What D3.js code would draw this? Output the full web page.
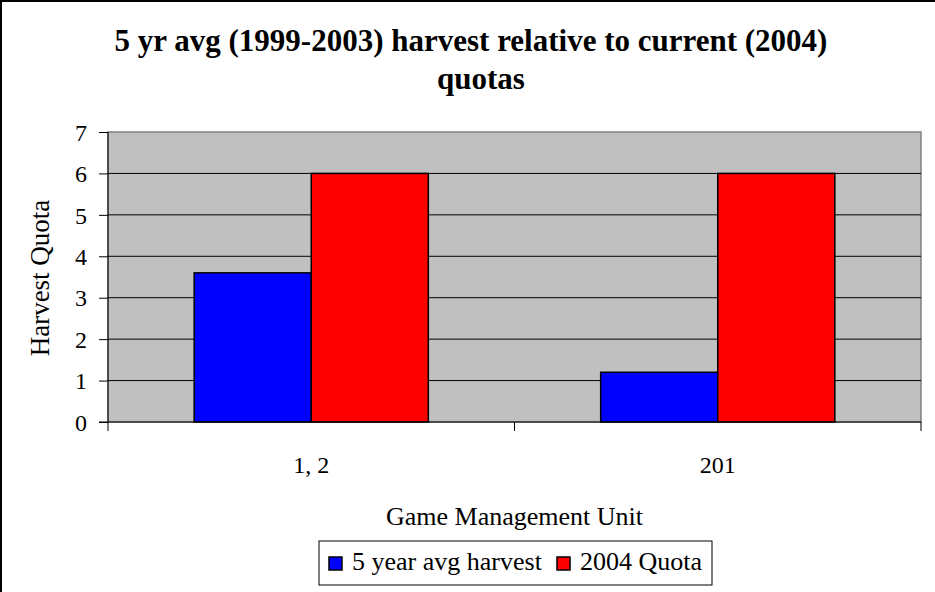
<!DOCTYPE html>
<html><head><meta charset="utf-8">
<script src="https://cdn.jsdelivr.net/npm/d3@7"></script>
<style>body{margin:0;background:#fff}svg{display:block}text{font-family:"Liberation Serif","Times New Roman",serif}</style>
</head><body>
<script>
const categories = ["1, 2", "201"];
const seriesNames = ["5 year avg harvest", "2004 Quota"];
const avgHarvest = [3.6, 1.2];
const quota2004 = [6, 6];
const yTicks = [0, 1, 2, 3, 4, 5, 6, 7];
const colors = ["#0000ff", "#ff0000"];

const W = 935, H = 592;
const plot = {left: 108, right: 921, top: 132, bottom: 422};
const svg = d3.select("body").append("svg").attr("width", W).attr("height", H);

// frame (top & left visible)
svg.append("line").attr("x1", 0).attr("x2", W).attr("y1", 1).attr("y2", 1).attr("stroke", "#000").attr("stroke-width", 2);
svg.append("line").attr("x1", 1).attr("x2", 1).attr("y1", 0).attr("y2", H).attr("stroke", "#000").attr("stroke-width", 2);

const x0 = d3.scaleBand().domain(categories).range([plot.left, plot.right]).paddingInner(0.424).paddingOuter(0.212);
const x1 = d3.scaleBand().domain(seriesNames).range([0, x0.bandwidth()]);
const y = d3.scaleLinear().domain([0, 7]).range([plot.bottom, plot.top]);

// plot background
svg.append("rect").attr("x", plot.left).attr("y", plot.top).attr("width", plot.right - plot.left).attr("height", plot.bottom - plot.top)
  .attr("fill", "#c0c0c0").attr("stroke", "#808080").attr("stroke-width", 1.5);

// gridlines
svg.append("g").selectAll("line").data(yTicks.filter(d => d > 0 && d < 7)).join("line")
  .attr("x1", plot.left).attr("x2", plot.right).attr("y1", d => y(d)).attr("y2", d => y(d))
  .attr("stroke", "#000").attr("stroke-width", 1);

// bars
const data = categories.map((c, i) => ({cat: c, vals: [avgHarvest[i], quota2004[i]]}));
const g = svg.append("g").selectAll("g").data(data).join("g").attr("transform", d => `translate(${x0(d.cat)},0)`);
g.selectAll("rect").data(d => d.vals.map((v, j) => ({name: seriesNames[j], v, j}))).join("rect")
  .attr("x", d => x1(d.name)).attr("width", x1.bandwidth())
  .attr("y", d => y(d.v)).attr("height", d => y(0) - y(d.v))
  .attr("fill", d => colors[d.j]).attr("stroke", "#000").attr("stroke-width", 1.5);

// y axis
const yAxis = d3.axisLeft(y).tickValues(yTicks).tickSize(9).tickPadding(12).tickFormat(d3.format("d"));
const ya = svg.append("g").attr("transform", `translate(${plot.left},0)`).call(yAxis);
ya.select(".domain").attr("stroke", "#000").attr("d", `M0,${plot.top}V${plot.bottom}`);
ya.selectAll("text").attr("font-size", 24).attr("fill", "#000").attr("font-family", "Liberation Serif").attr("dy", "0.34em");

// x axis
const xa = svg.append("g").attr("transform", `translate(0,${plot.bottom})`);
xa.append("line").attr("x1", plot.left - 9).attr("x2", plot.right).attr("stroke", "#000");
const bounds = [plot.left, plot.left + (plot.right - plot.left) / 2, plot.right];
xa.selectAll("line.t").data(bounds).join("line").attr("class", "t")
  .attr("x1", d => d).attr("x2", d => d).attr("y1", 0).attr("y2", 9).attr("stroke", "#000");
xa.selectAll("text").data(categories).join("text")
  .attr("x", d => x0(d) + x0.bandwidth() / 2).attr("y", 51).attr("text-anchor", "middle")
  .attr("font-size", 24).text(d => d);

// titles
const title = svg.append("text").attr("text-anchor", "middle").attr("font-weight", "bold").attr("font-size", 31);
title.append("tspan").attr("x", 471).attr("y", 51).text("5 yr avg (1999-2003) harvest relative to current (2004)");
title.append("tspan").attr("x", 481).attr("y", 89).text("quotas");

svg.append("text").attr("x", 514.5).attr("y", 525).attr("text-anchor", "middle").attr("font-size", 26).text("Game Management Unit");
svg.append("text").attr("transform", "translate(49,278) rotate(-90)").attr("text-anchor", "middle").attr("font-size", 27).text("Harvest Quota");

// legend
const leg = svg.append("g");
leg.append("rect").attr("x", 319).attr("y", 541).attr("width", 393).attr("height", 44).attr("fill", "#fff").attr("stroke", "#000").attr("stroke-width", 1);
const legX = [329, 557];
seriesNames.forEach((n, i) => {
  leg.append("rect").attr("x", legX[i]).attr("y", 557).attr("width", 13).attr("height", 13).attr("fill", colors[i]).attr("stroke", "#000").attr("stroke-width", 1.5);
  leg.append("text").attr("x", legX[i] + 23).attr("y", 570).attr("font-size", 26).text(n);
});
</script>
</body></html>
